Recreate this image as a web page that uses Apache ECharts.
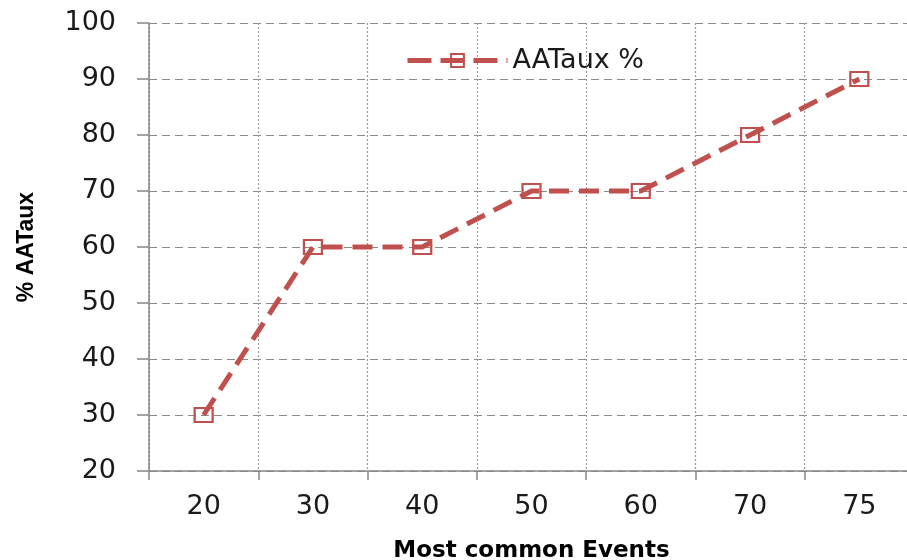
<!DOCTYPE html>
<html>
<head>
<meta charset="utf-8">
<script src="https://cdn.jsdelivr.net/npm/echarts@6/dist/echarts.min.js"></script>
<style>
  html, body { margin: 0; padding: 0; background: #fff; }
  #chart { width: 907px; height: 560px; }
</style>
</head>
<body>
<div id="chart"></div>
<script>
// Share of AATaux among the most common events
const categories = ['20', '30', '40', '50', '60', '70', '75'];
const aatauxPct = [30, 60, 60, 70, 70, 80, 90];
const seriesName = 'AATaux %';
const xTitle = 'Most common Events';
const yTitle = '% AATaux';

const RED = '#C0504D';
const AXIS = '#868686';

const chart = echarts.init(document.getElementById('chart'), null, { renderer: 'canvas' });
chart.setOption({
  animation: false,
  backgroundColor: '#fff',
  grid: {
    left: 149, top: 23, width: 765, height: 448,
    containLabel: false,
    outerBoundsMode: 'none'
  },
  legend: {
    left: 400, top: 42,
    itemWidth: 100, itemHeight: 16,
    textStyle: { fontFamily: 'DejaVu Sans', fontSize: 27, color: '#1a1a1a' },
    lineStyle: { color: RED, width: 5, type: [24, 9] },
    data: [seriesName]
  },
  xAxis: {
    type: 'category',
    data: categories,
    boundaryGap: true,
    name: xTitle,
    nameLocation: 'middle',
    nameGap: 69,
    nameTextStyle: { fontFamily: 'DejaVu Sans', fontWeight: 'bold', fontSize: 23, color: '#000' },
    axisLine: { lineStyle: { color: AXIS, width: 1.5 } },
    axisTick: { show: true, length: 9, lineStyle: { color: AXIS, width: 1.5 } },
    axisLabel: { fontFamily: 'DejaVu Sans', fontSize: 27, color: '#1a1a1a', margin: 22 },
    splitLine: { show: true, lineStyle: { color: '#999', width: 1.2, type: [2, 2] } }
  },
  yAxis: {
    type: 'value',
    min: 20, max: 100, interval: 10,
    name: yTitle,
    nameLocation: 'middle',
    nameGap: 111,
    nameTextStyle: { fontFamily: 'Liberation Sans', fontWeight: 'bold', fontSize: 23, color: '#000' },
    axisLine: { show: true, lineStyle: { color: AXIS, width: 1.5 } },
    axisTick: { show: true, length: 12, lineStyle: { color: AXIS, width: 1.5 } },
    axisLabel: { fontFamily: 'DejaVu Sans', fontSize: 27, color: '#1a1a1a', margin: 33 },
    splitLine: { show: true, lineStyle: { color: '#8a8a8a', width: 1.2, type: [8, 5] } }
  },
  series: [{
    name: seriesName,
    type: 'line',
    data: aatauxPct,
    symbol: 'rect',
    symbolSize: [18, 14],
    showAllSymbol: true,
    itemStyle: { color: 'rgba(255,255,255,0)', borderColor: RED, borderWidth: 2 },
    lineStyle: { color: RED, width: 5, type: [20, 10] },
    emphasis: { disabled: true }
  }]
});
</script>
</body>
</html>
